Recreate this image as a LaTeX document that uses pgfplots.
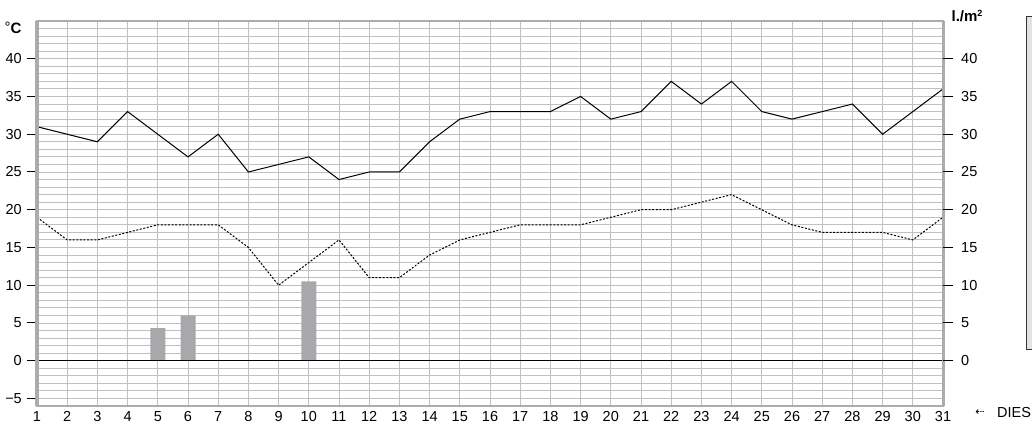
\documentclass[border=0pt]{standalone}
\usepackage{fontspec}
\setmainfont{Liberation Sans}
\newfontfamily\dejavu{DejaVu Sans}
\usepackage{pgfplots}
\pgfplotsset{compat=1.18}
\definecolor{gridc}{RGB}{192,192,195}
\definecolor{barc}{RGB}{168,168,172}
\definecolor{axc}{RGB}{172,172,176}
\newcommand{\lab}{\fontsize{14.5bp}{16bp}\selectfont}
\begin{document}
\begin{tikzpicture}
\useasboundingbox (0bp,0bp) rectangle (1032bp,426bp);
\begin{axis}[at={(37bp,20bp)}, anchor=south west, scale only axis,
  width=906bp, height=385bp,
  xmin=1, xmax=31, ymin=-6, ymax=45,
  xtick={1,...,31},
  ytick={-5,0,...,40},
  yticklabels={−5,0,5,10,15,20,25,30,35,40},
  minor ytick={-6,...,45},
  grid=both,
  major grid style={gridc, line width=0.9bp},
  minor grid style={gridc, line width=0.9bp},
  axis line style={axc, line width=1.5bp},
  x tick style={draw=none},
  y tick style={black, line width=1bp},
  minor tick length=0pt,
  major tick length=10bp,
  tick align=outside,
  ytick pos=left,
  /pgf/number format/assume math mode=true,
  tick label style={font=\lab},
  xticklabel style={inner sep=0pt, yshift=5bp},
  yticklabel style={inner sep=0pt, xshift=-5bp},
  clip=false]
\addplot[ybar, bar width=15bp, fill=barc, draw=none] coordinates {(5,4.3) (6,6) (10,10.5)};
\addplot[black, line width=1.2bp] coordinates {(1,0) (31,0)};
\addplot[black, line width=1bp] coordinates {
(1,31)(2,30)(3,29)(4,33)(5,30)(6,27)(7,30)(8,25)(9,26)(10,27)
(11,24)(12,25)(13,25)(14,29)(15,32)(16,33)(17,33)(18,33)(19,35)(20,32)
(21,33)(22,37)(23,34)(24,37)(25,33)(26,32)(27,33)(28,34)(29,30)(30,33)(31,36)};
\addplot[black, line width=1bp, dash pattern=on 2bp off 1.6bp] coordinates {
(1,19)(2,16)(3,16)(4,17)(5,18)(6,18)(7,18)(8,15)(9,10)(10,13)
(11,16)(12,11)(13,11)(14,14)(15,16)(16,17)(17,18)(18,18)(19,18)(20,19)
(21,20)(22,20)(23,21)(24,22)(25,20)(26,18)(27,17)(28,17)(29,17)(30,16)(31,19)};
\draw[axc, line width=3bp] (axis cs:1,-6) -- (axis cs:1,45);
\draw[axc, line width=3bp] (axis cs:31,-6) -- (axis cs:31,45);
\end{axis}
\begin{axis}[at={(37bp,20bp)}, anchor=south west, scale only axis,
  width=906bp, height=385bp,
  xmin=1, xmax=31, ymin=-6, ymax=45,
  hide x axis,
  axis y line*=right,
  y axis line style={draw=none},
  ytick={0,5,...,40},
  y tick style={black, line width=1bp},
  major tick length=10bp,
  tick align=outside,
  /pgf/number format/assume math mode=true,
  tick label style={font=\lab},
  yticklabel style={inner sep=0pt, xshift=8bp}]
\addplot[draw=none] coordinates {(1,0) (31,0)};
\end{axis}
\node[font=\fontsize{15bp}{16bp}\selectfont\bfseries] at (13bp,398bp) {{\mdseries\raisebox{1bp}{°}}C};
\node[font=\fontsize{15bp}{16bp}\selectfont\bfseries] at (967bp,410bp) {l./m\raisebox{5bp}{\fontsize{9bp}{9bp}\selectfont 2}};
\node[font=\dejavu\fontsize{11bp}{11bp}\selectfont] at (980bp,13bp) {⇠};
\node[font=\lab, anchor=west, inner sep=0pt] at (997bp,13bp) {DIES};
\fill[gray!22] (1026.5bp,76bp) rectangle (1034bp,409bp);
\draw[black!80, line width=1bp] (1034bp,76bp) -- (1026.5bp,76bp) -- (1026.5bp,409bp) -- (1034bp,409bp);
\end{tikzpicture}
\end{document}
